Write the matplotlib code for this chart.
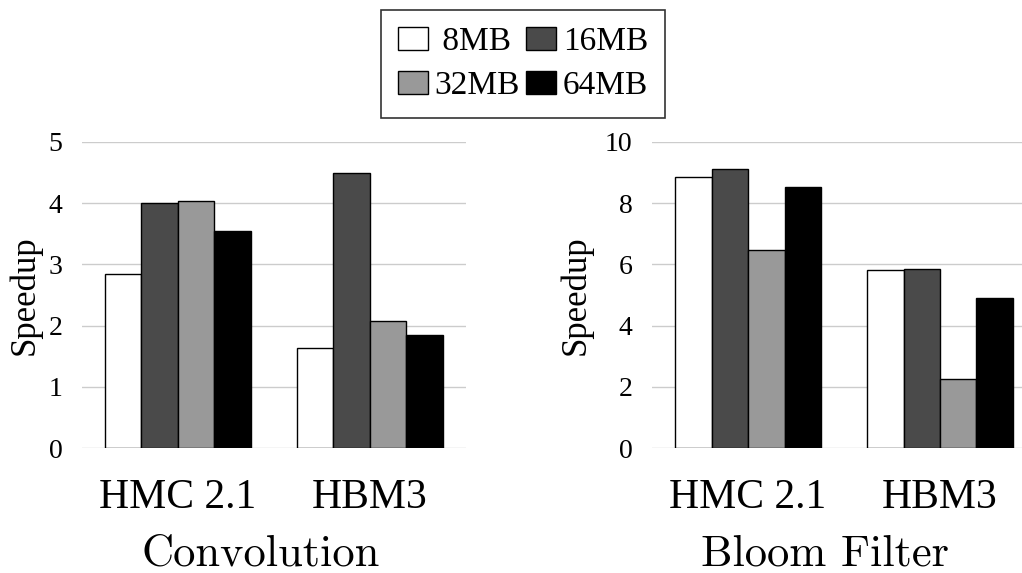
import numpy as np
import matplotlib
matplotlib.use("Agg")
import matplotlib.pyplot as plt

# data
groups = ["HMC 2.1", "HBM3"]
sizes = [" 8MB", "16MB", "32MB", "64MB"]
colors = ["#ffffff", "#4a4a4a", "#999999", "#000000"]

conv_8mb = [2.85, 1.63]
conv_16mb = [4.00, 4.49]
conv_32mb = [4.03, 2.07]
conv_64mb = [3.55, 1.84]

bloom_8mb = [8.86, 5.80]
bloom_16mb = [9.12, 5.86]
bloom_32mb = [6.48, 2.26]
bloom_64mb = [8.52, 4.90]

plt.rcParams['font.family'] = 'serif'
plt.rcParams['font.serif'] = ['Liberation Serif']

fig = plt.figure(figsize = (10.22, 5.73), dpi = 100)

ax1 = fig.add_axes([0.0802, 0.2176, 0.3757, 0.5351])
ax2 = fig.add_axes([0.638, 0.2176, 0.3757, 0.5351])

x = np.arange(len(groups))
w = 0.19


def draw(ax, series, ymax, yticks, title, title_x, label_x):
	for i, vals in enumerate(series):
		ax.bar(x + (i - 1.5) * w, vals, w, color = colors[i], edgecolor = 'black',
			linewidth = 1.0, label = sizes[i], zorder = 3)
	ax.set_xlim(-0.5, 1.5)
	ax.set_ylim(0, ymax)
	ax.set_yticks(yticks)
	ax.set_xticks(x)
	ax.set_xticklabels(groups, fontsize = 30)
	ax.tick_params(axis = 'x', length = 0, pad = 22)
	ax.tick_params(axis = 'y', length = 0, pad = 14, labelsize = 20)
	ax.yaxis.grid(True, color = '#cccccc', linewidth = 1.0, zorder = 0)
	ax.set_axisbelow(True)
	for s in ax.spines.values():
		s.set_visible(False)
	ax.set_ylabel("Speedup", fontsize = 25)
	ax.yaxis.set_label_coords(label_x, 0.5)
	fig.text(title_x, 0.013, title, fontsize = 32, family = 'cmr10', ha = 'center', va = 'baseline')


draw(ax1, [conv_8mb, conv_16mb, conv_32mb, conv_64mb], 5, range(0, 6), "Convolution", 261 / 1022., -0.104)
draw(ax2, [bloom_8mb, bloom_16mb, bloom_32mb, bloom_64mb], 10, range(0, 11, 2), "Bloom Filter", 825 / 1022., -0.154)

# legend is filled row by row in the reference
handles, labels = ax1.get_legend_handles_labels()
order = [0, 2, 1, 3]
leg = fig.legend([handles[i] for i in order], [labels[i] for i in order], loc = 'upper center',
	bbox_to_anchor = (523 / 1022., 1 - 10 / 573.),
	ncol = 2, fontsize = 24, frameon = True, fancybox = False, edgecolor = 'black',
	handlelength = 0.9, handleheight = 0.7, handletextpad = 0.2, columnspacing = 0.2,
	borderpad = 0.5, labelspacing = 0.4, borderaxespad = 0)
leg.get_frame().set_linewidth(1.2)

fig.savefig("out.png", dpi = 100)
